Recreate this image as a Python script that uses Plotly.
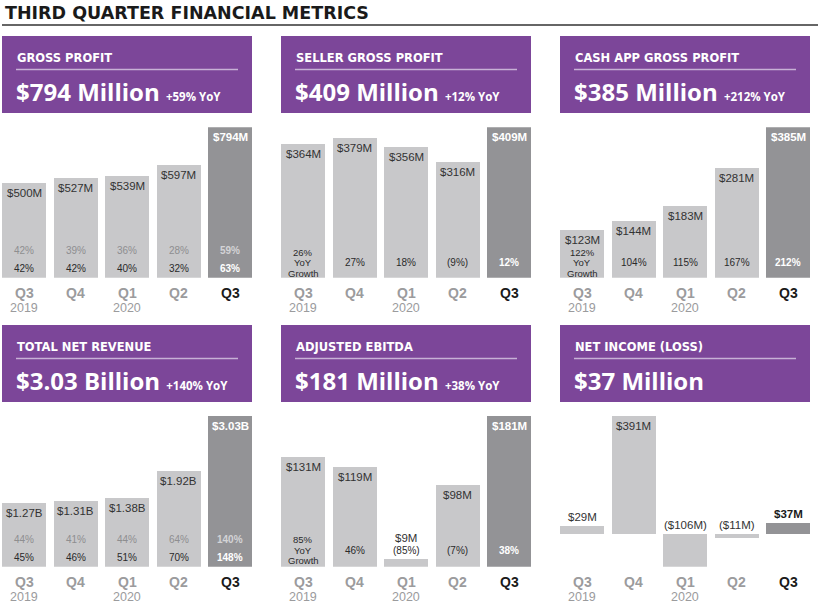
import plotly.graph_objects as go

# ---------------- data ----------------
periods = ["Q3 2019", "Q4 2019", "Q1 2020", "Q2 2020", "Q3 2020"]
quarter_labels = ["Q3", "Q4", "Q1", "Q2", "Q3"]
year_labels = ["2019", "", "2020", "", ""]

gross_profit = [500, 527, 539, 597, 794]                 # $M
gross_profit_pct_a = ["42%", "39%", "36%", "28%", "59%"]
gross_profit_pct_b = ["42%", "42%", "40%", "32%", "63%"]

seller_gross_profit = [364, 379, 356, 316, 409]          # $M
seller_gross_profit_yoy = ["26%", "27%", "18%", "(9%)", "12%"]

cash_app_gross_profit = [123, 144, 183, 281, 385]        # $M
cash_app_gross_profit_yoy = ["122%", "104%", "115%", "167%", "212%"]

total_net_revenue = [1.27, 1.31, 1.38, 1.92, 3.03]       # $B
total_net_revenue_pct_a = ["44%", "41%", "44%", "64%", "140%"]
total_net_revenue_pct_b = ["45%", "46%", "51%", "70%", "148%"]

adjusted_ebitda = [131, 119, 9, 98, 181]                 # $M
adjusted_ebitda_yoy = ["85%", "46%", "(85%)", "(7%)", "38%"]

net_income = [29, 391, -106, -11, 37]                    # $M

panel_titles = ["GROSS PROFIT", "SELLER GROSS PROFIT", "CASH APP GROSS PROFIT",
                "TOTAL NET REVENUE", "ADJUSTED EBITDA", "NET INCOME (LOSS)"]
panel_headlines = ["$794 Million", "$409 Million", "$385 Million",
                   "$3.03 Billion", "$181 Million", "$37 Million"]
panel_yoy = ["+59% YoY", "+12% YoY", "+212% YoY", "+140% YoY", "+38% YoY", ""]
page_title = "THIRD QUARTER FINANCIAL METRICS"

# ---------------- styling / layout ----------------
W, H = 820, 608
PURPLE = "#7C4699"
RULE = "#C7B1D6"
LIGHT = "#C8C8CA"
DARK = "#939396"
TXT = "#333333"
GREY_TXT = "#8E8E90"
AXIS_GREY = "#9B9B9D"
BIG_FONT = "Open Sans"
FONT = "Liberation Sans"
HEAD_FONT = "DejaVu Sans"

COL_X = [2, 281, 560]
PANEL_W = 250
ROWS = [dict(box_top=36, box_bot=113, base=277.7, top=127.3, yoy_shift=15),
        dict(box_top=325, box_bot=402, base=566.7, top=415.7, yoy_shift=16.5)]
PITCH = 51.5
BAR_W = 44


def px(x):
    return x / W


def py(y):
    return 1 - y / H


def money(v, unit):
    if unit == "B":
        s = f"${abs(v):.2f}B"
    else:
        s = f"${abs(v):.0f}M"
    return f"({s})" if v < 0 else s


panels = [
    dict(values=gross_profit, unit="M", kind="two", a=gross_profit_pct_a, b=gross_profit_pct_b),
    dict(values=seller_gross_profit, unit="M", kind="yoy", a=seller_gross_profit_yoy),
    dict(values=cash_app_gross_profit, unit="M", kind="yoy", a=cash_app_gross_profit_yoy),
    dict(values=total_net_revenue, unit="B", kind="two", a=total_net_revenue_pct_a, b=total_net_revenue_pct_b),
    dict(values=adjusted_ebitda, unit="M", kind="yoy", a=adjusted_ebitda_yoy),
    dict(values=net_income, unit="M", kind="net"),
]

fig = go.Figure()
shapes = []
annotations = []
layout_axes = {}
n = len(periods)
last = n - 1
half = (BAR_W / 2) / PITCH


def ann(text, x, y, xref, yref, size, color, yshift=0, xanchor="center", family=FONT):
    annotations.append(dict(text=text, x=x, y=y, xref=xref, yref=yref, yshift=yshift,
                            xanchor=xanchor, yanchor="middle", showarrow=False,
                            font=dict(family=family, size=size, color=color)))


# page title
ann(f"<b>{page_title}</b>", px(3), py(12.5), "paper", "paper", 17.5, "#1A1A1A",
    xanchor="left", family=HEAD_FONT)
shapes.append(dict(type="line", xref="paper", yref="paper", x0=px(2), x1=px(818), y0=py(25), y1=py(25),
                   line=dict(color="#333333", width=1.5)))

for i, p in enumerate(panels):
    r, c = divmod(i, 3)
    row = ROWS[r]
    x0 = COL_X[c]
    s = "" if i == 0 else str(i + 1)
    xa, ya = "x" + s, "y" + s
    vals = p["values"]
    vmax = max(vals)
    vmin = min(0, min(vals))
    scale = (row["base"] - row["top"]) / (vmax - vmin)  # px per unit

    layout_axes["xaxis" + s] = dict(domain=[px(x0), px(x0 + PANEL_W)], anchor=ya, type="category",
                                    range=[-half, last + half], showticklabels=False, showgrid=False,
                                    zeroline=False, showline=False, fixedrange=True)
    layout_axes["yaxis" + s] = dict(domain=[py(row["base"]), py(row["top"])], anchor=xa,
                                    range=[vmin, vmax], showticklabels=False, showgrid=False,
                                    zeroline=False, showline=False, fixedrange=True)

    colors = [LIGHT] * last + [DARK]
    fig.add_trace(go.Bar(x=periods, y=vals, marker=dict(color=colors, line=dict(width=0)),
                         width=BAR_W / PITCH, xaxis=xa, yaxis=ya, hoverinfo="skip", showlegend=False))

    # header box
    bt, bb = row["box_top"], row["box_bot"]
    shapes.append(dict(type="rect", xref="paper", yref="paper", x0=px(x0), x1=px(x0 + PANEL_W),
                       y0=py(bb), y1=py(bt), fillcolor=PURPLE, line=dict(width=0), layer="below"))
    shapes.append(dict(type="line", xref="paper", yref="paper", x0=px(x0 + 14), x1=px(x0 + 236),
                       y0=py(bt + 33.5), y1=py(bt + 33.5), line=dict(color=RULE, width=1.5)))
    ann(f"<b>{panel_titles[i]}</b>", px(x0 + 13), py(bt + 21.5), "paper", "paper", 11.5, "white",
        xanchor="left", family=HEAD_FONT)
    head = f"<b>{panel_headlines[i]}</b>"
    if panel_yoy[i]:
        head += f" <span style='font-size:11.5px'><b>{panel_yoy[i]}</b></span>"
    ann(head, px(x0 + 12), py(bt + 55), "paper", "paper", 24, "white", xanchor="left", family=BIG_FONT)

    # x labels (quarter, with year beneath where shown)
    for k in range(n):
        qcol = "#1A1A1A" if k == last else AXIS_GREY
        ann(f"<b>{quarter_labels[k]}</b>", periods[k], 0, xa, ya + " domain", 14, qcol, yshift=-15.5)
        if year_labels[k]:
            ann(year_labels[k], periods[k], 0, xa, ya + " domain", 12.5, AXIS_GREY, yshift=-30.5)

    # value labels and percentage rows
    for k, v in enumerate(vals):
        dark = k == last
        h_px = abs(v) * scale
        label = money(v, p["unit"])
        if p["kind"] == "net":
            if h_px > 40:
                ann(label, periods[k], v, xa, ya, 11.5, TXT, yshift=-10)
            else:
                col = "#1A1A1A" if dark else TXT
                txt = f"<b>{label}</b>" if dark else label
                ann(txt, periods[k], max(v, 0), xa, ya, 11.5, col, yshift=9)
            continue

        col = "white" if dark else TXT
        txt = f"<b>{label}</b>" if dark else label
        short = h_px <= 40

        if p["kind"] == "two":
            ann(txt, periods[k], v, xa, ya, 11.5, col, yshift=-10)
            ca = "#D4D4D6" if dark else GREY_TXT
            cb = "white" if dark else "#2A2A2A"
            ta = f"<b>{p['a'][k]}</b>" if dark else p["a"][k]
            tb = f"<b>{p['b'][k]}</b>" if dark else p["b"][k]
            ann(ta, periods[k], 0, xa, ya, 10, ca, yshift=27)
            ann(tb, periods[k], 0, xa, ya, 10, cb, yshift=9)
        else:
            cy = "white" if dark else "#2A2A2A"
            ty = f"<b>{p['a'][k]}</b>" if dark else p["a"][k]
            ysh = row["yoy_shift"]
            if short:
                # bar too short: the value sits just above the growth figure
                ann(txt, periods[k], 0, xa, ya, 11.5, col if not dark else "#1A1A1A", yshift=ysh + 12.3)
                ann(ty, periods[k], 0, xa, ya, 10, cy, yshift=ysh)
            else:
                ann(txt, periods[k], v, xa, ya, 11.5, col, yshift=-10)
                if k == 0:
                    for line, d in zip([ty, "YoY", "Growth"], [10.7, 0, -10.7]):
                        ann(line, periods[k], 0, xa, ya, 9.5, cy, yshift=ysh + d)
                else:
                    ann(ty, periods[k], 0, xa, ya, 10, cy, yshift=ysh)

fig.update_layout(width=W, height=H, margin=dict(l=0, r=0, t=0, b=0), autosize=False,
                  paper_bgcolor="white", plot_bgcolor="rgba(0,0,0,0)", showlegend=False,
                  bargap=0, shapes=shapes, annotations=annotations, **layout_axes)

fig.write_html("out.html", config={"displayModeBar": False, "staticPlot": True},
               post_script="document.body.style.margin='0px';document.body.style.padding='0px';")
